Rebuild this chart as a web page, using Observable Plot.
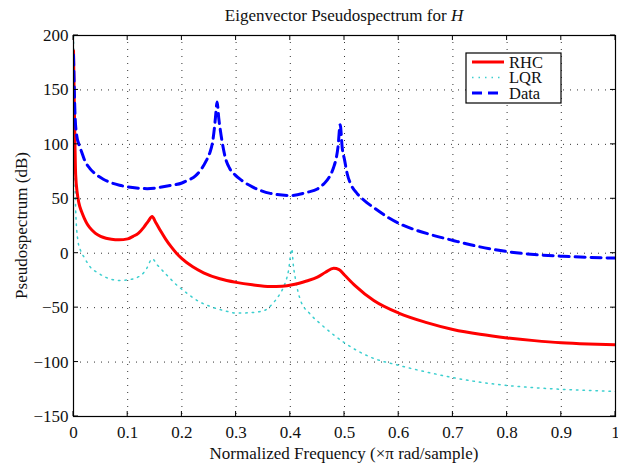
<!DOCTYPE html>
<html><head><meta charset="utf-8">
<script src="https://cdn.jsdelivr.net/npm/d3@7"></script>
<script src="https://cdn.jsdelivr.net/npm/@observablehq/plot@0.6"></script>
<style>body{margin:0;background:#fff} svg{display:block}</style>
</head><body><div id="chart"></div>
<script>
// ---- data ----
const rhcX = [0,0.002,0.004,0.007,0.01,0.015,0.02,0.025,0.03,0.04,0.05,0.06,0.07,0.084,0.1,0.11,0.12,0.13,0.138,0.145,0.152,0.16,0.17,0.18,0.19,0.2,0.22,0.24,0.27,0.3,0.33,0.363,0.385,0.406,0.43,0.45,0.465,0.48,0.49,0.5,0.52,0.554,0.6,0.65,0.7,0.75,0.8,0.85,0.9,0.95,1.0];
const rhcY = [186,120,72,55,46,38,32,27,23.5,18.5,15.5,13.8,12.8,12.3,13.2,15.5,18.5,24,29.5,33.7,28,21,13,6,0,-5,-12.5,-18,-23.5,-26.8,-29,-30.5,-30.3,-28.8,-25.5,-22,-17.5,-13.8,-15,-20,-30,-43.5,-55,-63.5,-70,-74.5,-77.8,-80.3,-82.2,-83.3,-84];

const lqrX = [0,0.002,0.004,0.008,0.013,0.02,0.031,0.045,0.059,0.084,0.1,0.124,0.135,0.145,0.155,0.173,0.19,0.21,0.23,0.253,0.28,0.302,0.33,0.352,0.368,0.38,0.39,0.397,0.401,0.403,0.405,0.41,0.419,0.435,0.456,0.48,0.499,0.548,0.6,0.65,0.708,0.75,0.8,0.85,0.9,0.95,1.0];
const lqrY = [200,100,40,12,2.5,-4,-12.8,-18,-22,-25,-24.5,-20.5,-14,-5.2,-11,-20.5,-29,-37,-44,-49,-53,-55,-54.5,-52.6,-46,-38,-28,-15,0,4,-8,-25,-43.5,-55,-65,-75,-82,-95.5,-103,-109,-115,-118.5,-121.5,-123.5,-125,-126,-127];

const dataX = [0,0.001,0.003,0.006,0.01,0.015,0.02,0.03,0.04,0.055,0.068,0.085,0.105,0.136,0.16,0.179,0.2,0.21,0.225,0.234,0.245,0.252,0.256,0.26,0.262,0.265,0.268,0.271,0.274,0.28,0.288,0.298,0.31,0.33,0.363,0.4,0.431,0.45,0.462,0.472,0.48,0.485,0.488,0.492,0.496,0.5,0.505,0.513,0.523,0.54,0.555,0.58,0.6,0.63,0.656,0.702,0.75,0.8,0.85,0.902,0.95,1.0];
const dataY = [182,160,125,108,100,93,86,78,73,68,65,62.5,60.6,59.3,60.5,62.2,64.5,66.8,71,76,85,93,100.5,115,125,139,124,112.7,103,88,78,72,67,61,55,53,56,59,63.8,70,79,88,97.4,118,96,86,73,62,55,47,41.5,33,27.5,21.5,17.5,11.5,5.8,1.5,-1.2,-2.8,-3.8,-4.5];

const seriesNames = ["RHC","LQR","Data"];
const xTicks = [0,0.1,0.2,0.3,0.4,0.5,0.6,0.7,0.8,0.9,1];
const yTicks = [-150,-100,-50,0,50,100,150,200];
const titleText = "Eigenvector Pseudospectrum for ";
const titleVar = "H";
const xLabel = "Normalized Frequency (\u00d7\u03c0 rad/sample)";
const yLabel = "Pseudospectrum (dB)";

// ---- styles ----
const styles = {
  RHC: {stroke:"#ff0000", width:3, dash:null},
  LQR: {stroke:"#3ccfcf", width:1.5, dash:"1.5,5"},
  Data:{stroke:"#0000ff", width:3, dash:"10,6"}
};
const rows = (xs, ys) => xs.map((x,i)=>({x, y: ys[i]}));
const seriesRows = {RHC: rows(rhcX, rhcY), LQR: rows(lqrX, lqrY), Data: rows(dataX, dataY)};
const font = "'Liberation Serif','Times New Roman',serif";
const fmtY = d => d < 0 ? "\u2212" + Math.abs(d) : String(d);

const lineMark = name => Plot.line(seriesRows[name], {
  x:"x", y:"y", stroke: styles[name].stroke, strokeWidth: styles[name].width,
  strokeDasharray: styles[name].dash, curve:"monotone-x", clip:true
});

const chart = Plot.plot({
  width: 618, height: 470,
  marginLeft: 73, marginRight: 3, marginTop: 35, marginBottom: 54,
  style: {fontFamily: font, fontSize: "17px", color: "#111", background: "#fff", overflow:"visible"},
  x: {domain:[0,1], label:null},
  y: {domain:[-150,200], label:null},
  marks: [
    Plot.gridX(xTicks, {stroke:"#333", strokeOpacity:1, strokeDasharray:"1,6"}),
    Plot.gridY(yTicks, {stroke:"#333", strokeOpacity:1, strokeDasharray:"1,6"}),
    lineMark("LQR"),
    lineMark("RHC"),
    lineMark("Data"),
    Plot.frame({stroke:"#000", strokeWidth:1.2}),
    Plot.axisX(xTicks, {tickSize:0, tickPadding:9, tickFormat: d => String(d), fontSize:17}),
    Plot.axisY(yTicks, {tickSize:0, tickPadding:5, tickFormat: fmtY, fontSize:17})
  ]
});
document.getElementById("chart").appendChild(chart);

// ---- inward ticks, titles, legend ----
const svg = d3.select(chart);
const sx = chart.scale("x"), sy = chart.scale("y");
const X0 = sx.apply(0), X1 = sx.apply(1), Y0 = sy.apply(-150), Y1 = sy.apply(200);
const tl = 5;
const tg = svg.append("g").attr("stroke","#000").attr("stroke-width",1);
xTicks.forEach(t => {
  const px = sx.apply(t);
  tg.append("line").attr("x1",px).attr("x2",px).attr("y1",Y0).attr("y2",Y0-tl);
  tg.append("line").attr("x1",px).attr("x2",px).attr("y1",Y1).attr("y2",Y1+tl);
});
yTicks.forEach(t => {
  const py = sy.apply(t);
  tg.append("line").attr("x1",X0).attr("x2",X0+tl).attr("y1",py).attr("y2",py);
  tg.append("line").attr("x1",X1).attr("x2",X1-tl).attr("y1",py).attr("y2",py);
});

const cx = (X0 + X1) / 2, cy = (Y0 + Y1) / 2;
const title = svg.append("text").attr("x", cx).attr("y", 21).attr("text-anchor","middle")
  .attr("font-family", font).attr("font-size", 17).attr("fill","#111");
title.append("tspan").text(titleText);
title.append("tspan").attr("font-style","italic").text(titleVar);

svg.append("text").attr("x", cx).attr("y", 459).attr("text-anchor","middle")
  .attr("font-family", font).attr("font-size", 17).attr("fill","#111").text(xLabel);

svg.append("text").attr("transform", `translate(27,${cy}) rotate(-90)`).attr("text-anchor","middle")
  .attr("font-family", font).attr("font-size", 17).attr("fill","#111").text(yLabel);

// legend
const lg = svg.append("g");
lg.append("rect").attr("x",466).attr("y",53).attr("width",95).attr("height",50)
  .attr("fill","#fff").attr("stroke","#000").attr("stroke-width",1.2);
const rowY = [62, 77.5, 93];
seriesNames.forEach((name, i) => {
  const s = styles[name];
  lg.append("line").attr("x1",472).attr("x2",504).attr("y1",rowY[i]).attr("y2",rowY[i])
    .attr("stroke", s.stroke).attr("stroke-width", s.width).attr("stroke-dasharray", s.dash);
  lg.append("text").attr("x",509).attr("y",rowY[i]+5.5).attr("text-anchor","start")
    .attr("font-family", font).attr("font-size",16.5).attr("fill","#111").text(name);
});
</script>
</body></html>
